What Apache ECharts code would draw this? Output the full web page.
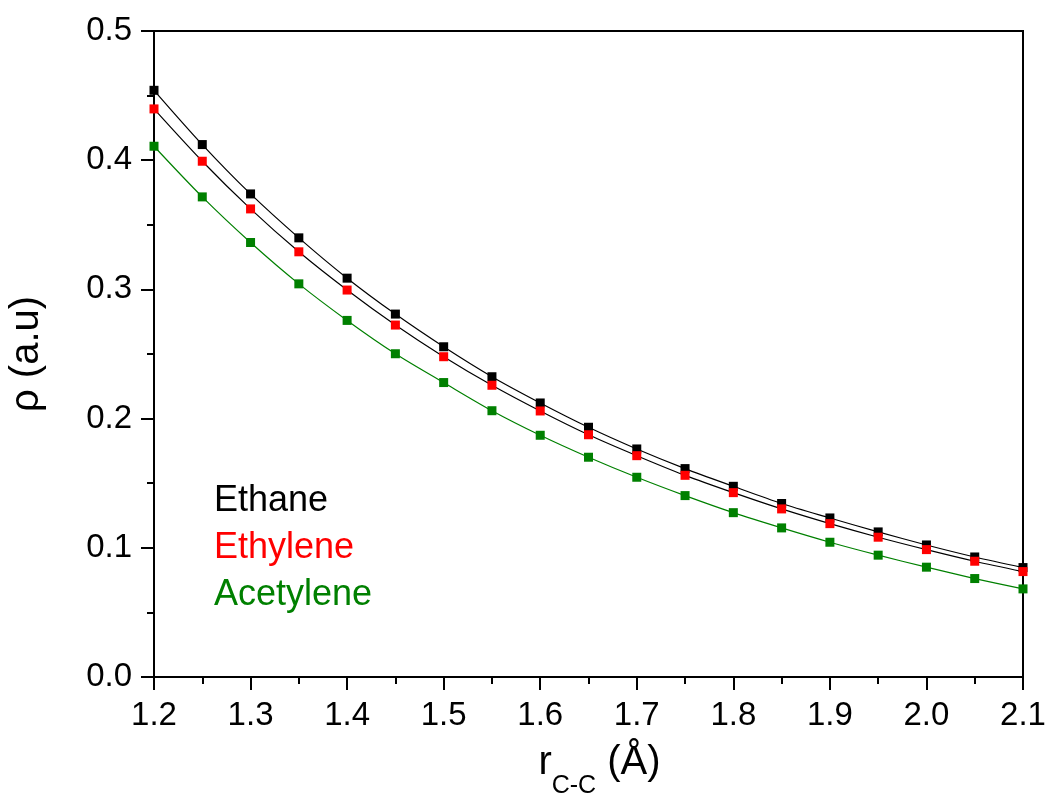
<!DOCTYPE html>
<html>
<head>
<meta charset="utf-8">
<script src="https://cdn.jsdelivr.net/npm/echarts@6/dist/echarts.min.js"></script>
<style>
  html, body { margin: 0; padding: 0; background: #fff; }
  #chart { width: 1049px; height: 796px; }
</style>
</head>
<body>
<div id="chart"></div>
<script>
// C–C bond distance (Å)
const rCC = [1.20, 1.25, 1.30, 1.35, 1.40, 1.45, 1.50, 1.55, 1.60, 1.65,
             1.70, 1.75, 1.80, 1.85, 1.90, 1.95, 2.00, 2.05, 2.10];

// electron density at the bond critical point (a.u.)
const ethane = [0.4541, 0.4121, 0.3739, 0.3399, 0.3087, 0.2809, 0.2556, 0.2324, 0.2121, 0.1933,
                0.1765, 0.1613, 0.1476, 0.1343, 0.1231, 0.1123, 0.1022, 0.0929, 0.0847];
const ethylene = [0.4397, 0.3992, 0.3623, 0.3291, 0.2995, 0.2724, 0.2479, 0.2258, 0.2059, 0.1875,
                  0.1713, 0.1561, 0.1427, 0.1301, 0.1187, 0.1082, 0.0986, 0.0896, 0.0816];
const acetylene = [0.4108, 0.3716, 0.3363, 0.3043, 0.2760, 0.2502, 0.2279, 0.2061, 0.1871, 0.1701,
                   0.1546, 0.1404, 0.1272, 0.1154, 0.1043, 0.0943, 0.0850, 0.0762, 0.0682];

const seriesNames = ['Ethane', 'Ethylene', 'Acetylene'];
const seriesValues = [ethane, ethylene, acetylene];
const markerColors = ['#000000', '#ff0000', '#008000'];
const lineColors = ['#000000', '#000000', '#008000'];

const FONT = '"Liberation Sans", Arial, sans-serif';

const chart = echarts.init(document.getElementById('chart'), null, { renderer: 'canvas' });

const series = seriesNames.map((name, i) => ({
  name: name,
  type: 'line',
  data: rCC.map((x, k) => [x, seriesValues[i][k]]),
  smooth: 0.3,
  symbol: 'rect',
  symbolSize: 9,
  showAllSymbol: true,
  clip: true,
  lineStyle: { color: lineColors[i], width: 1.2 },
  itemStyle: { color: markerColors[i], borderWidth: 0 },
  emphasis: { disabled: true },
  z: 2 + i
}));

function labelStyle() {
  return { color: '#000', fontFamily: FONT, fontSize: 33, margin: 22, formatter: v => v.toFixed(1) };
}

// outward major/minor ticks, drawn by a label-less companion axis on the same scale
function tickAxis(min, max, position) {
  return {
    type: 'value', min: min, max: max, interval: 0.1, position: position,
    axisLine: { show: false },
    axisLabel: { show: false },
    splitLine: { show: false },
    axisTick: { show: true, length: 13, lineStyle: { color: '#000', width: 2 } },
    minorTick: { show: true, splitNumber: 2, length: 7, lineStyle: { color: '#000', width: 2 } },
    z: 5
  };
}

chart.setOption({
  animation: false,
  backgroundColor: '#ffffff',
  grid: {
    left: 154, right: 26, top: 31, bottom: 119,
    outerBoundsMode: 'none',
    show: true, borderColor: '#000', borderWidth: 2
  },
  legend: {
    orient: 'vertical',
    left: 204,
    top: 478,
    itemWidth: 0,
    itemHeight: 0,
    itemGap: 11,
    icon: 'none',
    selectedMode: false,
    textStyle: { fontFamily: FONT, fontSize: 36 },
    data: seriesNames.map((n, i) => ({ name: n, icon: 'none', textStyle: { color: markerColors[i] } }))
  },
  xAxis: [{
    type: 'value',
    min: 1.2,
    max: 2.1,
    interval: 0.1,
    position: 'bottom',
    axisLine: { show: true, lineStyle: { color: '#000', width: 2 } },
    axisTick: { show: true, length: 13, lineStyle: { color: '#000', width: 2 } },
    minorTick: { show: true, splitNumber: 2, length: 7, lineStyle: { color: '#000', width: 2 } },
    splitLine: { show: false },
    axisLabel: labelStyle(),
    name: '{r|r}{sub|C-C}{r| (Å)}',
    nameLocation: 'middle',
    nameGap: 66,
    nameTextStyle: {
      color: '#000',
      fontFamily: FONT,
      padding: [0, 0, 0, 22],
      rich: {
        r: { fontFamily: FONT, fontSize: 40, color: '#000', lineHeight: 44, verticalAlign: 'top' },
        sub: { fontFamily: FONT, fontSize: 25, color: '#000', lineHeight: 44, verticalAlign: 'top', padding: [31, 0, 0, 0] }
      }
    }
  }, tickAxis(1.2, 2.1, 'bottom')],
  yAxis: [{
    type: 'value',
    min: 0,
    max: 0.5,
    interval: 0.1,
    position: 'left',
    axisLine: { show: true, lineStyle: { color: '#000', width: 2 } },
    axisTick: { show: true, length: 13, lineStyle: { color: '#000', width: 2 } },
    minorTick: { show: true, splitNumber: 2, length: 7, lineStyle: { color: '#000', width: 2 } },
    splitLine: { show: false },
    axisLabel: labelStyle(),
    name: 'ρ (a.u)',
    nameLocation: 'middle',
    nameGap: 107,
    nameTextStyle: { color: '#000', fontFamily: FONT, fontSize: 40 }
  }, tickAxis(0, 0.5, 'left')],
  series: series
});
</script>
</body>
</html>
